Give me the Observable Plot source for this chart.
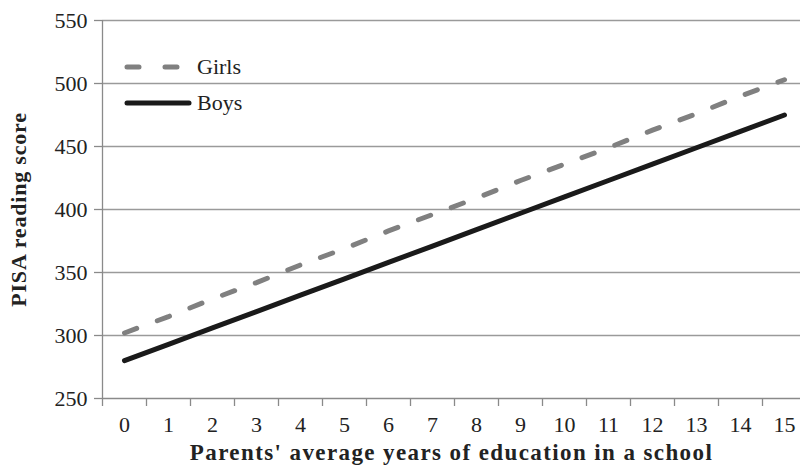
<!DOCTYPE html>
<html><head><meta charset="utf-8">
<script src="https://cdn.jsdelivr.net/npm/d3@7"></script>
<script src="https://cdn.jsdelivr.net/npm/@observablehq/plot@0.6"></script>
<style>
body{margin:0;background:#fff;}
#wrap{position:relative;width:800px;height:472px;overflow:hidden;font-family:"Liberation Serif",serif;}
#legend{position:absolute;left:122px;top:49px;font-size:22px;color:#222;}
#legend div{display:flex;align-items:center;height:36px;}
#legend svg{margin-right:5px;}
</style></head><body>
<div id="wrap"><div id="chart"></div>
<div id="legend"></div></div>
<script>
const years = [0,1,2,3,4,5,6,7,8,9,10,11,12,13,14,15];
const girls = [302,315,329,342,356,369,383,396,409,423,436,449,463,476,490,503];
const boys  = [280,293,306,319,332,345,358,371,384,397,410,423,436,449,462,475];
const yTicks = [250,300,350,400,450,500,550];
const series = [
  {name:"Girls", values:girls, color:"#808080", dash:"13,22"},
  {name:"Boys", values:boys, color:"#1a1a1a", dash:null}
];
const rows = series.flatMap(s => years.map((x,i)=>({series:s.name, x, y:s.values[i]})));
const bounds = d3.range(-0.5, 16, 1);

const chart = Plot.plot({
  width: 800, height: 472,
  marginLeft: 102, marginRight: 0, marginTop: 20, marginBottom: 74,
  style: {fontFamily: "Liberation Serif, serif", fontSize: "22px", color: "#222", overflow: "hidden"},
  x: {domain: [-0.5, 15.5], range: [102, 806]},
  y: {domain: [250, 550]},
  marks: [
    Plot.gridY(yTicks.slice(1), {stroke: "#9a9a9a", strokeOpacity: 1, strokeWidth: 1.3}),
    Plot.ruleY([250], {stroke: "#8a8a8a", strokeWidth: 1.3}),
    Plot.ruleX([-0.5], {stroke: "#8a8a8a", strokeWidth: 1.3}),
    Plot.axisY(yTicks, {tickSize: 8, tickPadding: 7, stroke: "#8a8a8a", strokeWidth: 1.3, label: null, fill: "#222"}),
    Plot.axisX(bounds, {tickSize: 8, tickFormat: () => "", stroke: "#8a8a8a", strokeWidth: 1.3, label: null}),
    Plot.axisX(years, {tickSize: 0, tickPadding: 18, label: null, fill: "#222"}),
    Plot.line(rows.filter(d=>d.series==="Girls"), {x:"x", y:"y", stroke: series[0].color, strokeWidth: 5, strokeDasharray: series[0].dash, strokeLinecap: "round"}),
    Plot.line(rows.filter(d=>d.series==="Boys"), {x:"x", y:"y", stroke: series[1].color, strokeWidth: 5, strokeLinecap: "round"}),
    Plot.text(["PISA reading score"], {frameAnchor: "left", textAnchor: "middle", dx: -84, rotate: -90, fontWeight: "bold", fontSize: 22, fill: "#222"}),
    Plot.text(["Parents' average years of education in a school"], {frameAnchor: "bottom", textAnchor: "middle", dy: 61, fontWeight: "bold", fontSize: 23, fill: "#222"})
  ]
});
chart.querySelectorAll("text").forEach(t => {
  if (t.textContent.startsWith("Parents")) t.setAttribute("letter-spacing", "1.4");
  if (t.textContent.startsWith("PISA")) t.setAttribute("letter-spacing", "0.8");
});
document.getElementById("chart").append(chart);

const leg = document.getElementById("legend");
for (const s of series) {
  const row = document.createElement("div");
  row.innerHTML = `<svg width="70" height="10"><line x1="5" y1="5" x2="67" y2="5" stroke="${s.color}" stroke-width="5" ${s.dash ? 'stroke-dasharray="12,26"' : ''} stroke-linecap="round"/></svg><span>${s.name}</span>`;
  leg.append(row);
}
</script>
</body></html>
